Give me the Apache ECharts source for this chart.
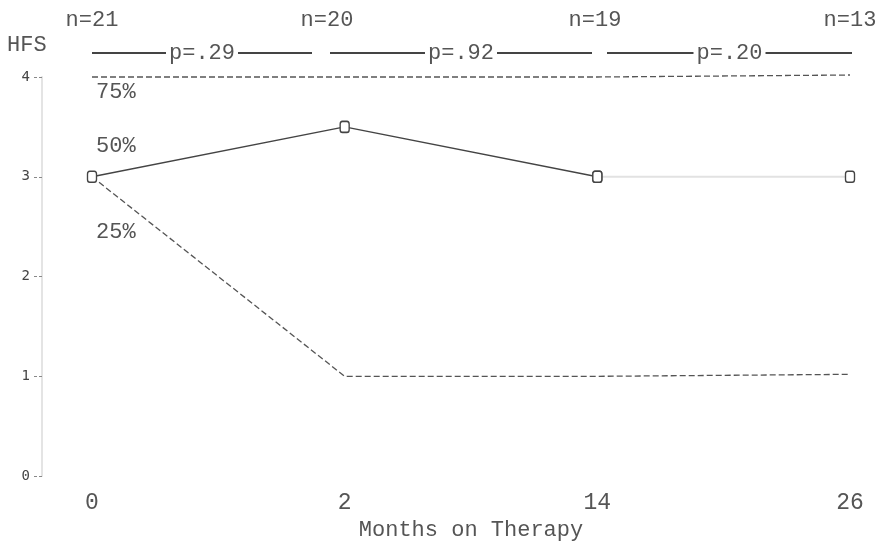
<!DOCTYPE html>
<html>
<head>
<meta charset="utf-8">
<script src="https://cdn.jsdelivr.net/npm/echarts@6/dist/echarts.min.js"></script>
<style>html,body{margin:0;padding:0;background:#fff}#c{width:882px;height:546px}</style>
</head>
<body>
<div id="c"></div>
<script>
const months = ['0', '2', '14', '26'];
const p75 = [4, 4, 4, 4.02];
const p50 = [3, 3.5, 3, 3];
const p25 = [3, 1, 1, 1.02];
const nLabels = ['n=21', 'n=20', 'n=19', 'n=13'];
const pValues = ['p=.29', 'p=.92', 'p=.20'];
const pctLabels = ['75%', '50%', '25%'];

const FONT = "'Liberation Mono', 'DejaVu Sans Mono', monospace";
const TXT = '#555';

const chart = echarts.init(document.getElementById('c'), null, {renderer: 'canvas'});

// split median into dark part (0..14) and faded last segment (14..26)
const p50main = p50.map((v, i) => (i <= 2 ? v : null));
const p50faded = p50.map((v, i) => (i >= 2 ? v : null));

const nX = [92, 327, 595, 850];
const brackets = [[92, 312], [330, 592], [607, 852]];
const pctY = [92, 146, 232];

const graphics = [];
graphics.push({type: 'text', left: 7, top: 34, style: {text: 'HFS', font: '22px ' + FONT, fill: TXT}});
nLabels.forEach((t, i) => {
  graphics.push({type: 'text', x: nX[i], y: 20, style: {text: t, font: '22px ' + FONT, fill: TXT, textAlign: 'center', textVerticalAlign: 'middle'}});
});
brackets.forEach((b, i) => {
  graphics.push({type: 'line', shape: {x1: b[0], y1: 53, x2: b[1], y2: 53}, style: {stroke: '#444', lineWidth: 2}});
  graphics.push({type: 'text', x: (b[0] + b[1]) / 2, y: 53, z: 10, style: {text: pValues[i], font: '22px ' + FONT, fill: TXT, textAlign: 'center', textVerticalAlign: 'middle', backgroundColor: '#fff', padding: [0, 3]}});
});
pctLabels.forEach((t, i) => {
  graphics.push({type: 'text', x: 96, y: pctY[i], style: {text: t, font: '22px ' + FONT, fill: TXT, textVerticalAlign: 'middle'}});
});

chart.setOption({
  animation: false,
  backgroundColor: '#fff',
  grid: {left: 92, right: 32, top: 77, bottom: 64, containLabel: false},
  xAxis: {
    type: 'category', data: months, boundaryGap: false,
    axisLine: {show: false}, axisTick: {show: false}, splitLine: {show: false},
    axisLabel: {margin: 15, fontFamily: FONT, fontSize: 23, color: TXT},
    name: 'Months on Therapy', nameLocation: 'middle', nameGap: 40,
    nameTextStyle: {fontFamily: FONT, fontSize: 22, color: TXT}
  },
  yAxis: {
    type: 'value', min: 0, max: 4, interval: 1, offset: 50,
    axisLine: {show: true, lineStyle: {color: '#e4e4e4', width: 2}},
    axisTick: {show: true, length: 8, lineStyle: {color: '#888', type: [3, 2]}},
    splitLine: {show: false},
    axisLabel: {margin: 12, fontFamily: "'DejaVu Sans Mono', monospace", fontSize: 14, color: '#444'}
  },
  graphic: graphics,
  series: [
    {
      name: '75%', type: 'line', data: p75, symbol: 'none', clip: false,
      lineStyle: {color: '#555', width: 1.3, type: [6, 3]}, z: 2
    },
    {
      name: '50%', type: 'line', data: p50main, symbol: 'roundRect', symbolSize: [9, 11],
      itemStyle: {color: '#fff', borderColor: '#444', borderWidth: 1.5},
      lineStyle: {color: '#444', width: 1.5}, z: 4
    },
    {
      name: '50% faded', type: 'line', data: p50faded, symbol: 'roundRect', symbolSize: [9, 11],
      itemStyle: {color: '#fff', borderColor: '#444', borderWidth: 1.5},
      lineStyle: {color: '#e2e2e2', width: 2}, z: 3
    },
    {
      name: '25%', type: 'line', data: p25, symbol: 'none', clip: false,
      lineStyle: {color: '#555', width: 1.3, type: [6, 3]}, z: 2
    }
  ]
});
</script>
</body>
</html>
